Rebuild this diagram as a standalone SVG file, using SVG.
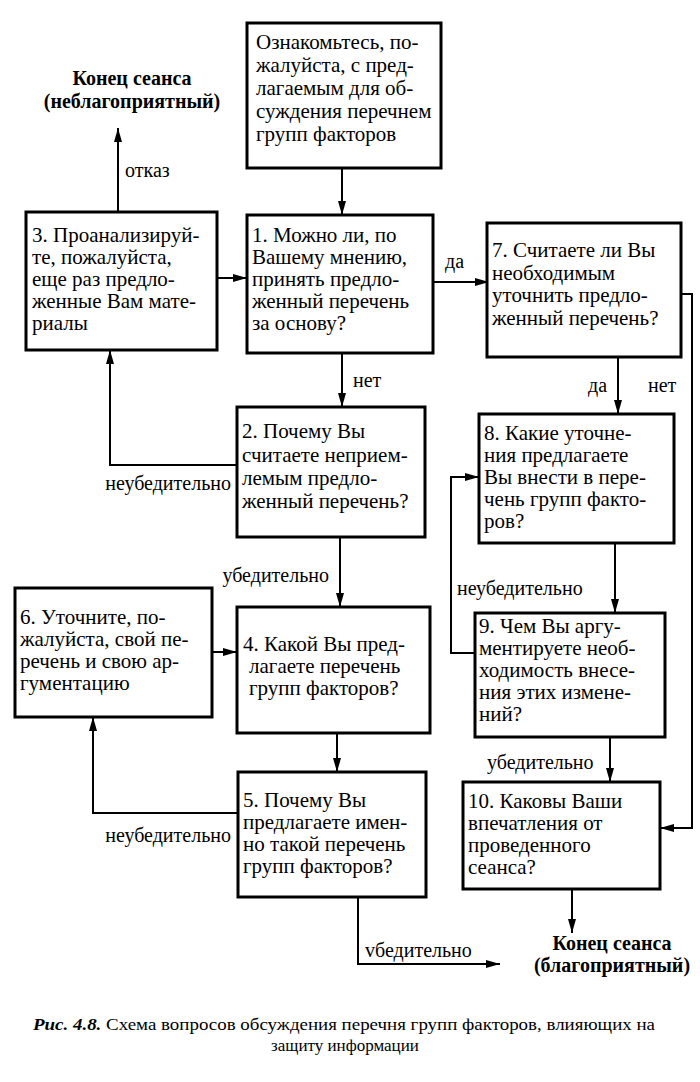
<svg xmlns="http://www.w3.org/2000/svg" width="700" height="1082" viewBox="0 0 700 1082">
<style>
.box{fill:#fff;stroke:#000;stroke-width:3}
.t{font-family:"Liberation Serif","DejaVu Serif",serif;font-size:21px;fill:#000}
.l{font-family:"Liberation Serif","DejaVu Serif",serif;font-size:20px;fill:#000}
.e{font-family:"Liberation Serif","DejaVu Serif",serif;font-size:20px;font-weight:bold;fill:#000;text-anchor:middle}
.c{font-family:"Liberation Serif","DejaVu Serif",serif;font-size:17px;fill:#000}
.cn path{fill:none;stroke:#000;stroke-width:2;marker-end:url(#ah)}
</style>
<defs>
<marker id="ah" viewBox="0 0 14 8" markerWidth="14" markerHeight="8" refX="14" refY="4" orient="auto" markerUnits="userSpaceOnUse">
<path d="M0,0 L14,4 L0,8 Z" fill="#000"/>
</marker>
</defs>
<rect width="700" height="1082" fill="#fff"/>

<g id="connectors" class="cn">
<path d="M342,168 V215"/>
<path d="M217,278 H247"/>
<path d="M118,212 V128"/>
<path d="M433,282 H489"/>
<path d="M342,353 V407"/>
<path d="M237,465 H110 V350"/>
<path d="M340,537 V607"/>
<path d="M212,652 H237"/>
<path d="M337,733 V772"/>
<path d="M238,813 H93 V717"/>
<path d="M358,897 V964 H500"/>
<path d="M618,357 V414"/>
<path d="M681,294 H692 V828 H660"/>
<path d="M615,543 V613"/>
<path d="M475,653 H451 V477 H479"/>
<path d="M610,737 V782"/>
<path d="M572,889 V933"/>
</g>

<g id="labels">
<text class="l" x="125" y="177">отказ</text>
<text class="l" x="445" y="268">да</text>
<text class="l" x="353" y="387">нет</text>
<text class="l" x="231" y="490" text-anchor="end">неубедительно</text>
<text class="l" x="329" y="582" text-anchor="end">убедительно</text>
<text class="l" x="231" y="842" text-anchor="end">неубедительно</text>
<text class="l" x="365" y="957">vбедительно</text>
<text class="l" x="588" y="392">да</text>
<text class="l" x="648" y="392">нет</text>
<text class="l" x="457" y="595">неубедительно</text>
<text class="l" x="487" y="769">убедительно</text>
</g>

<g id="end-bad">
<text class="e" x="132" y="85">Конец сеанса</text>
<text class="e" x="132" y="108">(неблагоприятный)</text>
</g>
<g id="end-good">
<text class="e" x="612" y="950">Конец сеанса</text>
<text class="e" x="612" y="972">(благоприятный)</text>
</g>

<g id="node0">
<rect class="box" x="247" y="23" width="194" height="145"/>
<text class="t" x="256" y="49">Ознакомьтесь, по-</text>
<text class="t" x="256" y="72">жалуйста, с  пред-</text>
<text class="t" x="256" y="95">лагаемым для об-</text>
<text class="t" x="256" y="118">суждения перечнем</text>
<text class="t" x="256" y="141">групп факторов</text>
</g>

<g id="node1">
<rect class="box" x="247" y="215" width="186" height="138"/>
<text class="t" x="252" y="242">1. Можно ли, по</text>
<text class="t" x="252" y="264">Вашему мнению,</text>
<text class="t" x="252" y="286">принять предло-</text>
<text class="t" x="252" y="308">женный перечень</text>
<text class="t" x="252" y="330">за основу?</text>
</g>

<g id="node3">
<rect class="box" x="26" y="212" width="191" height="138"/>
<text class="t" x="32" y="242">3. Проанализируй-</text>
<text class="t" x="32" y="264">те, пожалуйста,</text>
<text class="t" x="32" y="286">еще раз предло-</text>
<text class="t" x="32" y="308">женные Вам мате-</text>
<text class="t" x="32" y="330">риалы</text>
</g>

<g id="node7">
<rect class="box" x="487" y="223" width="194" height="134"/>
<text class="t" x="492" y="257">7. Считаете ли Вы</text>
<text class="t" x="492" y="280">необходимым</text>
<text class="t" x="492" y="302">уточнить предло-</text>
<text class="t" x="492" y="325">женный перечень?</text>
</g>

<g id="node2">
<rect class="box" x="237" y="407" width="188" height="130"/>
<text class="t" x="242" y="438">2. Почему Вы</text>
<text class="t" x="242" y="462">считаете неприем-</text>
<text class="t" x="242" y="485">лемым предло-</text>
<text class="t" x="242" y="508">женный перечень?</text>
</g>

<g id="node8">
<rect class="box" x="479" y="414" width="195" height="129"/>
<text class="t" x="484" y="440">8. Какие уточне-</text>
<text class="t" x="484" y="462">ния предлагаете</text>
<text class="t" x="484" y="484">Вы внести в пере-</text>
<text class="t" x="484" y="506">чень групп факто-</text>
<text class="t" x="484" y="528">ров?</text>
</g>

<g id="node6">
<rect class="box" x="15" y="588" width="197" height="129"/>
<text class="t" x="20" y="624">6. Уточните, по-</text>
<text class="t" x="20" y="646">жалуйста, свой пе-</text>
<text class="t" x="20" y="668">речень и свою ар-</text>
<text class="t" x="20" y="690">гументацию</text>
</g>

<g id="node4">
<rect class="box" x="237" y="607" width="193" height="126"/>
<text class="t" x="243" y="651">4. Какой Вы пред-</text>
<text class="t" x="249" y="673">лагаете перечень</text>
<text class="t" x="249" y="695">групп факторов?</text>
</g>

<g id="node9">
<rect class="box" x="475" y="613" width="190" height="124"/>
<text class="t" x="479" y="633">9. Чем Вы аргу-</text>
<text class="t" x="479" y="655">ментируете необ-</text>
<text class="t" x="479" y="677">ходимость внесе-</text>
<text class="t" x="479" y="699">ния этих измене-</text>
<text class="t" x="479" y="721">ний?</text>
</g>

<g id="node5">
<rect class="box" x="238" y="772" width="188" height="125"/>
<text class="t" x="243" y="807">5. Почему Вы</text>
<text class="t" x="243" y="829">предлагаете имен-</text>
<text class="t" x="243" y="851">но такой перечень</text>
<text class="t" x="243" y="873">групп факторов?</text>
</g>

<g id="node10">
<rect class="box" x="463" y="782" width="197" height="107"/>
<text class="t" x="468" y="808">10. Каковы Ваши</text>
<text class="t" x="468" y="830">впечатления от</text>
<text class="t" x="468" y="852">проведенного</text>
<text class="t" x="468" y="874">сеанса?</text>
</g>

<g id="caption">
<text class="c" x="33" y="1030" textLength="622" lengthAdjust="spacingAndGlyphs"><tspan font-weight="bold" font-style="italic">Рис. 4.8.</tspan> Схема вопросов обсуждения перечня групп факторов, влияющих на</text>
<text class="c" x="345" y="1051" text-anchor="middle">защиту информации</text>
</g>
</svg>
